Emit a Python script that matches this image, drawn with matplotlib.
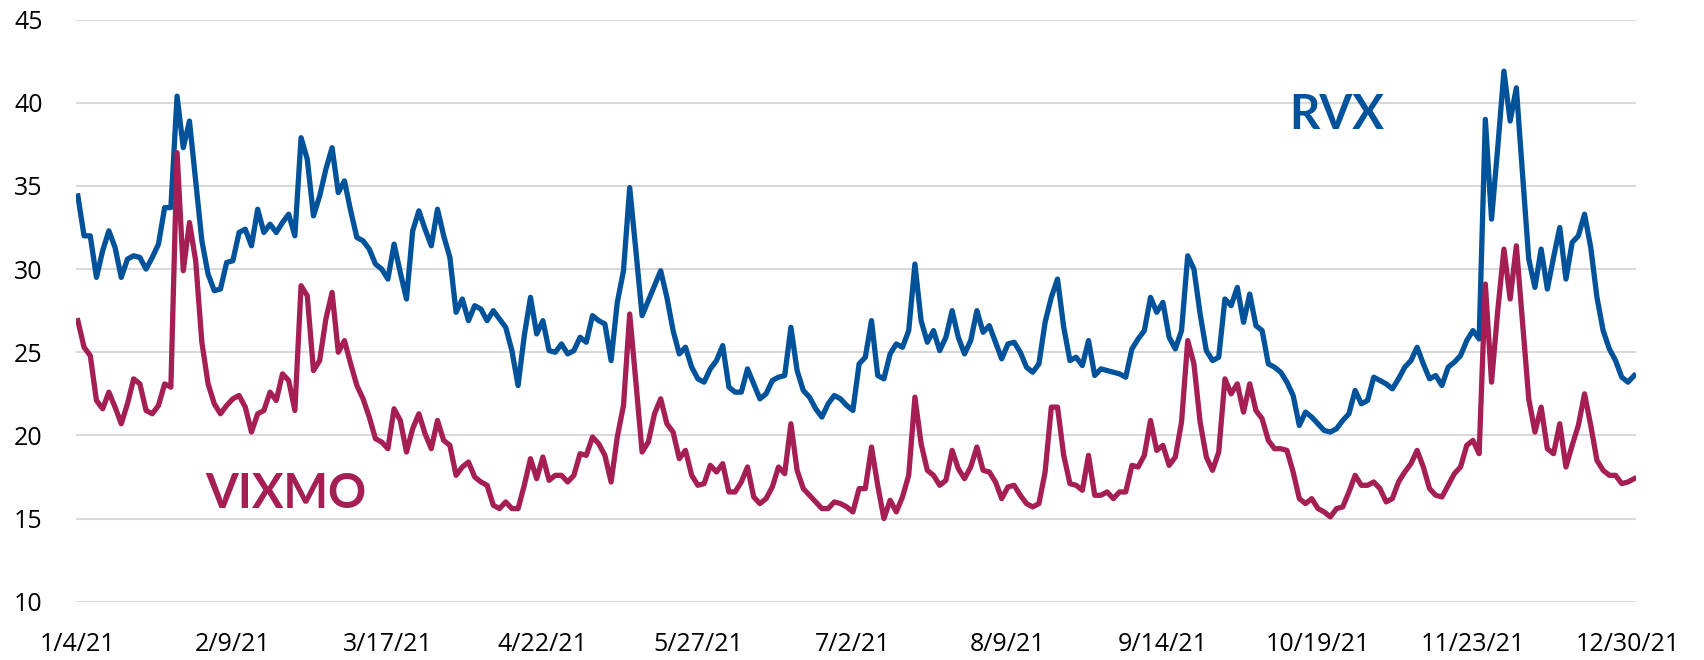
import matplotlib.pyplot as plt
import numpy as np

# Daily closes, 1/4/21 .. 12/31/21 (trading days)
rvx = [34.4, 32.0, 32.0, 29.5, 31.1, 32.3, 31.3, 29.5, 30.6, 30.8,
       30.7, 30.0, 30.7, 31.5, 33.7, 33.7, 40.4, 37.3, 38.9, 35.3,
       31.7, 29.7, 28.7, 28.8, 30.4, 30.5, 32.2, 32.4, 31.4, 33.6,
       32.2, 32.7, 32.2, 32.8, 33.3, 32.0, 37.9, 36.6, 33.2, 34.4,
       36.0, 37.3, 34.6, 35.3, 33.5, 31.9, 31.7, 31.2, 30.3, 30.0,
       29.4, 31.5, 29.8, 28.2, 32.3, 33.5, 32.4, 31.4, 33.6, 32.0,
       30.7, 27.4, 28.2, 26.9, 27.8, 27.6, 26.9, 27.5, 27.0, 26.5,
       25.1, 23.0, 26.0, 28.3, 26.1, 26.9, 25.1, 25.0, 25.5, 24.9,
       25.1, 25.9, 25.6, 27.2, 26.9, 26.7, 24.5, 28.0, 29.9, 34.9,
       31.1, 27.2, 28.1, 29.0, 29.9, 28.3, 26.3, 24.9, 25.3, 24.1,
       23.4, 23.2, 24.0, 24.5, 25.4, 22.9, 22.6, 22.6, 24.0, 23.1,
       22.2, 22.5, 23.3, 23.5, 23.6, 26.5, 23.9, 22.7, 22.3, 21.6,
       21.1, 21.9, 22.4, 22.2, 21.8, 21.5, 24.3, 24.7, 26.9, 23.6,
       23.4, 24.9, 25.5, 25.3, 26.3, 30.3, 26.9, 25.6, 26.3, 25.1,
       25.9, 27.5, 25.9, 24.9, 25.7, 27.5, 26.2, 26.6, 25.6, 24.6,
       25.5, 25.6, 25.0, 24.1, 23.8, 24.3, 26.8, 28.3, 29.4, 26.5,
       24.5, 24.7, 24.2, 25.7, 23.6, 24.0, 23.9, 23.8, 23.7, 23.5,
       25.2, 25.8, 26.3, 28.3, 27.4, 28.0, 25.9, 25.2, 26.3, 30.8,
       30.0, 27.3, 25.1, 24.5, 24.7, 28.2, 27.8, 28.9, 26.8, 28.5,
       26.6, 26.3, 24.3, 24.1, 23.8, 23.2, 22.4, 20.6, 21.4, 21.1,
       20.7, 20.3, 20.2, 20.4, 20.9, 21.3, 22.7, 21.9, 22.1, 23.5,
       23.3, 23.1, 22.8, 23.4, 24.1, 24.5, 25.3, 24.3, 23.4, 23.6,
       23.0, 24.1, 24.4, 24.8, 25.7, 26.3, 25.8, 39.0, 33.0, 37.3,
       41.9, 38.9, 40.9, 35.7, 30.6, 28.9, 31.2, 28.8, 30.7, 32.5,
       29.4, 31.6, 32.0, 33.3, 31.3, 28.3, 26.3, 25.2, 24.5, 23.5,
       23.2, 23.6]

vixmo = [26.9, 25.3, 24.8, 22.1, 21.6, 22.6, 21.7, 20.7, 21.9, 23.4,
         23.1, 21.5, 21.3, 21.8, 23.1, 22.9, 37.0, 29.9, 32.8, 30.5,
         25.6, 23.1, 21.9, 21.3, 21.8, 22.2, 22.4, 21.7, 20.2, 21.3,
         21.5, 22.6, 22.1, 23.7, 23.3, 21.5, 29.0, 28.4, 23.9, 24.5,
         27.0, 28.6, 25.0, 25.7, 24.3, 23.0, 22.2, 21.1, 19.8, 19.6,
         19.2, 21.6, 20.9, 19.0, 20.4, 21.3, 20.1, 19.2, 20.9, 19.7,
         19.4, 17.6, 18.1, 18.4, 17.5, 17.2, 17.0, 15.8, 15.6, 16.0,
         15.6, 15.6, 17.0, 18.6, 17.4, 18.7, 17.3, 17.6, 17.6, 17.2,
         17.6, 18.9, 18.8, 19.9, 19.5, 18.8, 17.2, 19.9, 21.8, 27.3,
         23.2, 19.0, 19.6, 21.3, 22.2, 20.7, 20.2, 18.6, 19.1, 17.6,
         17.0, 17.1, 18.2, 17.8, 18.3, 16.6, 16.6, 17.2, 18.1, 16.3,
         15.9, 16.2, 16.9, 18.1, 17.7, 20.7, 17.9, 16.8, 16.4, 16.0,
         15.6, 15.6, 16.0, 15.9, 15.7, 15.4, 16.8, 16.8, 19.3, 17.0,
         15.0, 16.1, 15.4, 16.3, 17.6, 22.3, 19.5, 17.9, 17.6, 17.0,
         17.3, 19.1, 18.0, 17.4, 18.1, 19.3, 17.9, 17.8, 17.2, 16.2,
         16.9, 17.0, 16.4, 15.9, 15.7, 15.9, 17.8, 21.7, 21.7, 18.8,
         17.1, 17.0, 16.7, 18.8, 16.4, 16.4, 16.6, 16.2, 16.6, 16.6,
         18.2, 18.1, 18.8, 20.9, 19.1, 19.4, 18.2, 18.7, 20.8, 25.7,
         24.3, 20.8, 18.7, 17.9, 19.0, 23.4, 22.5, 23.1, 21.4, 23.1,
         21.5, 21.0, 19.7, 19.2, 19.2, 19.1, 17.8, 16.2, 15.9, 16.2,
         15.6, 15.4, 15.1, 15.6, 15.7, 16.6, 17.6, 17.0, 17.0, 17.2,
         16.8, 16.0, 16.2, 17.2, 17.8, 18.3, 19.1, 18.1, 16.8, 16.4,
         16.3, 17.0, 17.7, 18.1, 19.4, 19.7, 18.9, 29.1, 23.2, 27.5,
         31.2, 28.2, 31.4, 26.8, 22.2, 20.2, 21.7, 19.2, 18.9, 20.7,
         18.1, 19.4, 20.6, 22.5, 20.6, 18.5, 17.9, 17.6, 17.6, 17.1,
         17.2, 17.4]

# one label every 25 trading days
date_labels = ['1/4/21', '2/9/21', '3/17/21', '4/22/21', '5/27/21', '7/2/21',
               '8/9/21', '9/14/21', '10/19/21', '11/23/21', '12/30/21']

blue = '#00529B'
red = '#A51F55'

fig = plt.figure(figsize=(17.04, 6.6), dpi=100)
ax = fig.add_axes([0.0446, 0.0883, 0.9155, 0.882])

x = np.arange(len(rvx))
ax.plot(x, rvx, color=blue, linewidth=3.8, solid_joinstyle='round')
ax.plot(x, vixmo, color=red, linewidth=3.8, solid_joinstyle='round')

ax.set_xlim(-0.3, len(rvx) - 0.7)
ax.set_ylim(10, 45)
ax.set_yticks(range(10, 50, 5))
ax.set_xticks(np.arange(len(date_labels)) * 25)
ax.set_xticklabels(date_labels)
ax.yaxis.grid(True, color='#d9d9d9', linewidth=1.5)
ax.set_axisbelow(True)
for s in ax.spines.values():
    s.set_visible(False)
ax.tick_params(axis='y', length=0, pad=24, labelsize=18)
ax.tick_params(axis='x', length=0, pad=22, labelsize=18)
for t in ax.get_yticklabels() + ax.get_xticklabels():
    t.set_fontfamily(['Open Sans', 'DejaVu Sans'])

ax.text(203, 39.26, 'RVX', color=blue, fontsize=34, fontweight='bold',
        ha='center', va='center', family=['Lato', 'DejaVu Sans'])
ax.text(33.5, 16.5, 'VIXMO', color=red, fontsize=34, fontweight='bold',
        ha='center', va='center', family=['Lato', 'DejaVu Sans'])

fig.savefig('out.png', dpi=100)
